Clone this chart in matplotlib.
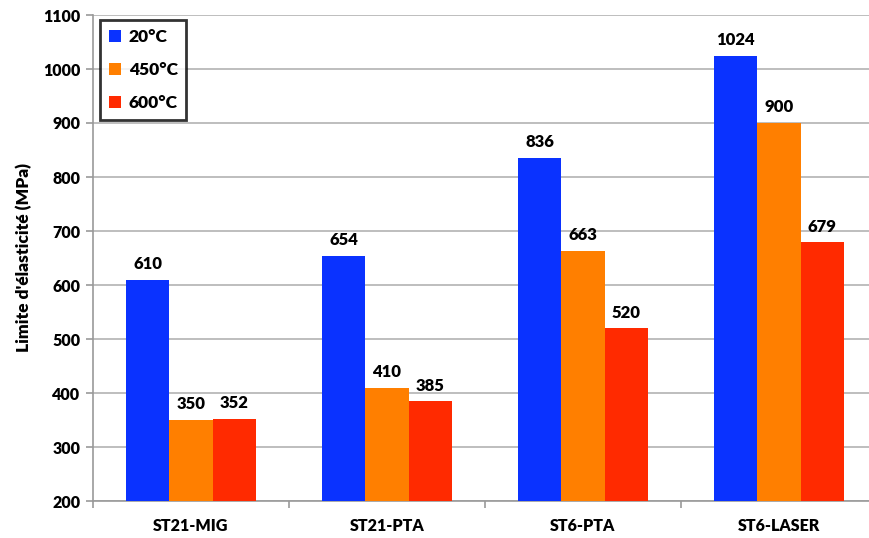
import matplotlib
matplotlib.use("Agg")
import matplotlib.pyplot as plt
import numpy as np

plt.rcParams['font.family'] = ['Lato', 'DejaVu Sans']
plt.rcParams['font.weight'] = 'bold'

categories = ["ST21-MIG", "ST21-PTA", "ST6-PTA", "ST6-LASER"]
series_names = ["20°C", "450°C", "600°C"]
v20 = [610, 654, 836, 1024]
v450 = [350, 410, 663, 900]
v600 = [352, 385, 520, 679]
colors = ["#0a32ff", "#ff7f00", "#ff2a00"]

fig = plt.figure(figsize=(8.69, 5.38), dpi=100)
ax = fig.add_axes([93/869, 37/538, 784/869, 486/538])

x = np.arange(len(categories))
w = 0.22
for i, (vals, name, c) in enumerate(zip([v20, v450, v600], series_names, colors)):
    pos = x + (i - 1) * w
    ax.bar(pos, [v - 200 for v in vals], width=w, bottom=200, color=c, label=name, zorder=3)
    for p, v in zip(pos, vals):
        ax.text(p, v + 14, str(v), ha='center', va='bottom', fontsize=12,
                fontweight='heavy', color='black', zorder=4)

ax.set_xlim(-0.5, len(categories) - 0.5)
ax.set_ylim(200, 1100)
ax.set_yticks(range(200, 1101, 100))
ax.yaxis.grid(True, color='#b3b3b3', linewidth=1.2, zorder=0)
ax.set_axisbelow(True)

ax.set_xticks(x)
ax.set_xticklabels(categories, fontsize=11.5, fontweight='heavy')
ax.set_xticks(np.arange(-0.5, len(categories), 1), minor=True)
ax.tick_params(axis='x', which='major', length=0, pad=12)
ax.tick_params(axis='x', which='minor', length=5, color='#999999', width=1.2)
ax.tick_params(axis='y', length=5, color='#999999', width=1.2, labelsize=11.5, pad=4)
for lbl in ax.get_yticklabels():
    lbl.set_fontweight('heavy')

for s in ['top', 'right']:
    ax.spines[s].set_visible(False)
for s in ['left', 'bottom']:
    ax.spines[s].set_color('#999999')
    ax.spines[s].set_linewidth(1.2)

ax.set_ylabel("Limite d'élasticité (MPa)", fontsize=12.5, fontweight='heavy', labelpad=8)

leg = ax.legend(loc='upper left', bbox_to_anchor=(7/784, 481/486),
                frameon=True, fancybox=False, handlelength=0.7, handleheight=0.7,
                handletextpad=0.45, labelspacing=1.0, borderpad=0.5, borderaxespad=0,
                prop={'weight': 'heavy', 'size': 12.5})
leg.get_frame().set_edgecolor('black')
leg.get_frame().set_linewidth(2)

fig.savefig("out.png", dpi=100)
